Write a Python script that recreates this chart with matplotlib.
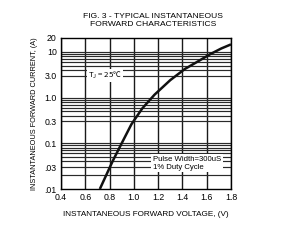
import matplotlib
matplotlib.use("Agg")
import matplotlib.pyplot as plt
from matplotlib.ticker import FixedLocator, NullFormatter

plt.rcParams['font.family'] = ['Liberation Sans', 'DejaVu Sans']

# Data
voltage = [0.72, 0.76, 0.80, 0.83, 0.90, 0.98, 1.07, 1.17, 1.30, 1.42, 1.53, 1.63, 1.72, 1.80]
current = [0.010, 0.017, 0.029, 0.043, 0.10, 0.26, 0.58, 1.15, 2.4, 4.2, 6.2, 8.9, 11.8, 14.5]

x_ticks = [0.4, 0.6, 0.8, 1.0, 1.2, 1.4, 1.6, 1.8]
x_labels = ["0.4", "0.6", "0.8", "1.0", "1.2", "1.4", "1.6", "1.8"]
y_ticks = [0.01, 0.03, 0.1, 0.3, 1.0, 3.0, 10, 20]
y_labels = [".01", ".03", "0.1", "0.3", "1.0", "3.0", "10", "20"]
y_grid = [0.02, 0.03, 0.04, 0.05, 0.06, 0.07, 0.08, 0.09, 0.1,
          0.3, 0.4, 0.5, 0.6, 0.7, 0.8, 0.9, 1.0,
          3.0, 4.0, 5.0, 6.0, 7.0, 8.0, 9.0, 10.0]

fig = plt.figure(figsize=(3.0, 2.42), dpi=100)
ax = fig.add_axes([0.2033, 0.219, 0.5667, 0.624])

ax.set_yscale('log')
ax.set_xlim(0.4, 1.8)
ax.set_ylim(0.01, 20)

ax.xaxis.set_major_locator(FixedLocator(x_ticks))
ax.set_xticklabels(x_labels)
ax.yaxis.set_major_locator(FixedLocator(y_ticks))
ax.yaxis.set_minor_locator(FixedLocator(y_grid))
ax.yaxis.set_minor_formatter(NullFormatter())
ax.set_yticklabels(y_labels)

ax.tick_params(which='both', length=0, labelsize=6.3, pad=3, colors='black')

for v in x_ticks:
    ax.axvline(v, color='#1a1a1a', lw=1.0, zorder=1)
for v in y_grid:
    ax.axhline(v, color='#2a2a2a', lw=0.85, zorder=1)

ax.plot(voltage, current, color='#111111', lw=1.8, zorder=3, solid_capstyle='butt')

for s in ax.spines.values():
    s.set_linewidth(1.0)
    s.set_color('black')

ax.text(0.16, 3.0, "T$_\\mathregular{J}$ = 25℃", fontsize=5.6, ha='left', va='center',
        transform=ax.get_yaxis_transform(), zorder=4,
        family=['Noto Sans CJK SC', 'Liberation Sans', 'DejaVu Sans'],
        bbox=dict(facecolor='white', edgecolor='none', pad=0.6))
ax.text(0.54, 0.037, "Pulse Width=300uS\n1% Duty Cycle", fontsize=5.6, ha='left', va='center',
        transform=ax.get_yaxis_transform(), zorder=4, linespacing=1.2,
        bbox=dict(facecolor='white', edgecolor='none', pad=1.2))

fig.text(0.51, 0.915, "FIG. 3 - TYPICAL INSTANTANEOUS\nFORWARD CHARACTERISTICS",
         ha='center', va='center', fontsize=6.1, linespacing=1.15)
ax.set_xlabel("INSTANTANEOUS FORWARD VOLTAGE, (V)", fontsize=5.9, labelpad=6)
ax.set_ylabel("INSTANTANEOUS FORWARD CURRENT, (A)", fontsize=5.3, labelpad=5)

fig.savefig("out.png", dpi=100, facecolor='white')
